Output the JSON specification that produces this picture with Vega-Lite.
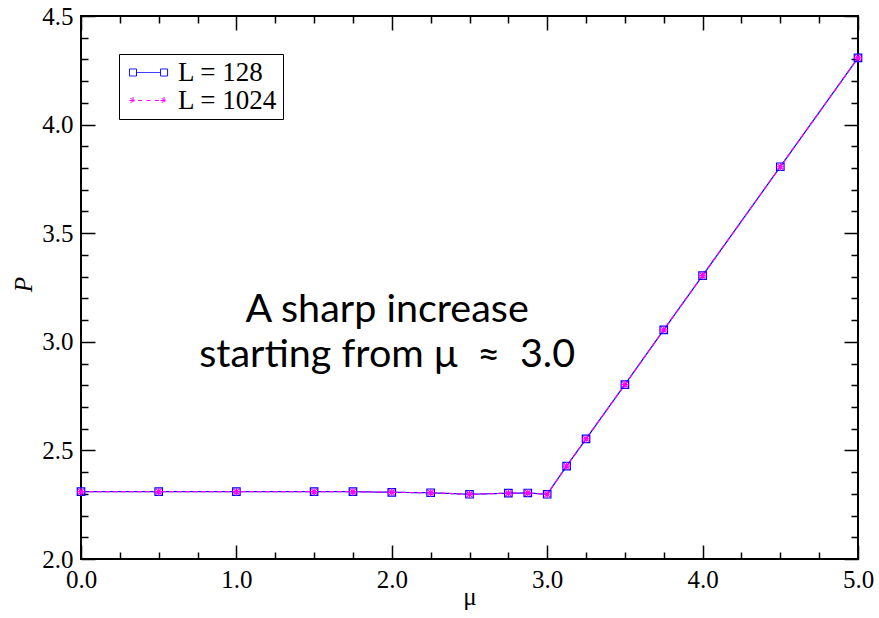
{
  "$schema": "https://vega.github.io/schema/vega-lite/v6.json",
  "width": 777,
  "height": 543,
  "autosize": {"type": "none"},
  "padding": {"left": 81, "top": 16, "right": 21, "bottom": 59},
  "background": "white",
  "config": {
    "view": {"stroke": "black", "strokeWidth": 2},
    "axis": {"grid": false, "domain": false, "tickColor": "black", "tickWidth": 1.5, "labelColor": "black", "titleColor": "black", "labelFont": "Liberation Serif", "titleFont": "Liberation Serif", "labelFontSize": 25, "titleFontSize": 25, "titleFontWeight": "normal", "labelFlush": false, "labelOverlap": false}
  },
  "data": {"values": [
    {"series": "L = 128", "mu": 0.0, "P": 2.31},
    {"series": "L = 128", "mu": 0.5, "P": 2.31},
    {"series": "L = 128", "mu": 1.0, "P": 2.31},
    {"series": "L = 128", "mu": 1.5, "P": 2.31},
    {"series": "L = 128", "mu": 1.75, "P": 2.31},
    {"series": "L = 128", "mu": 2.0, "P": 2.307},
    {"series": "L = 128", "mu": 2.25, "P": 2.305},
    {"series": "L = 128", "mu": 2.5, "P": 2.298},
    {"series": "L = 128", "mu": 2.75, "P": 2.303},
    {"series": "L = 128", "mu": 2.875, "P": 2.304},
    {"series": "L = 128", "mu": 3.0, "P": 2.298},
    {"series": "L = 128", "mu": 3.125, "P": 2.428},
    {"series": "L = 128", "mu": 3.25, "P": 2.553},
    {"series": "L = 128", "mu": 3.5, "P": 2.803},
    {"series": "L = 128", "mu": 3.75, "P": 3.055},
    {"series": "L = 128", "mu": 4.0, "P": 3.305},
    {"series": "L = 128", "mu": 4.5, "P": 3.806},
    {"series": "L = 128", "mu": 5.0, "P": 4.307},
    {"series": "L = 1024", "mu": 0.0, "P": 2.31},
    {"series": "L = 1024", "mu": 0.5, "P": 2.31},
    {"series": "L = 1024", "mu": 1.0, "P": 2.31},
    {"series": "L = 1024", "mu": 1.5, "P": 2.31},
    {"series": "L = 1024", "mu": 1.75, "P": 2.31},
    {"series": "L = 1024", "mu": 2.0, "P": 2.307},
    {"series": "L = 1024", "mu": 2.25, "P": 2.305},
    {"series": "L = 1024", "mu": 2.5, "P": 2.298},
    {"series": "L = 1024", "mu": 2.75, "P": 2.303},
    {"series": "L = 1024", "mu": 2.875, "P": 2.304},
    {"series": "L = 1024", "mu": 3.0, "P": 2.298},
    {"series": "L = 1024", "mu": 3.125, "P": 2.428},
    {"series": "L = 1024", "mu": 3.25, "P": 2.553},
    {"series": "L = 1024", "mu": 3.5, "P": 2.803},
    {"series": "L = 1024", "mu": 3.75, "P": 3.055},
    {"series": "L = 1024", "mu": 4.0, "P": 3.305},
    {"series": "L = 1024", "mu": 4.5, "P": 3.806},
    {"series": "L = 1024", "mu": 5.0, "P": 4.307}
  ]},
  "resolve": {"axis": {"x": "independent", "y": "independent"}},
  "layer": [
    {
      "mark": {"type": "line", "strokeWidth": 1.2, "clip": false},
      "encoding": {
        "x": {"field": "mu", "type": "quantitative", "scale": {"domain": [0, 5], "nice": false, "zero": false},
          "axis": {"orient": "bottom", "values": [0, 1, 2, 3, 4, 5], "format": ".1f", "tickSize": -14, "labelPadding": 22, "labelFont": "Liberation Serif", "labelFontSize": 25, "labelFlush": false, "title": "μ", "titleFont": "Liberation Serif", "titleFontSize": 25, "titleY": 45, "titleBaseline": "alphabetic"}},
        "y": {"field": "P", "type": "quantitative", "scale": {"domain": [2, 4.5], "nice": false, "zero": false},
          "axis": {"orient": "left", "values": [2, 2.5, 3, 3.5, 4, 4.5], "format": ".1f", "tickSize": -14, "labelPadding": 22, "labelFont": "Liberation Serif", "labelFontSize": 25, "title": "P", "titleFont": "Liberation Serif", "titleFontSize": 25, "titleFontStyle": "italic", "titleX": -58, "titleY": 268, "titleAngle": -90, "titleAlign": "center", "titleBaseline": "middle"}},
        "color": {"field": "series", "type": "nominal",
          "scale": {"domain": ["L = 128", "L = 1024"], "range": ["#0000ff", "#ff00ff"]},
          "legend": {"orient": "none", "legendX": 38, "legendY": 38, "title": null, "labelFont": "Liberation Serif", "labelFontSize": 27, "labelColor": "black", "strokeColor": "black", "padding": 5, "rowPadding": 0, "symbolSize": 256, "labelOffset": 27, "fillColor": "white",
            "encode": {"symbols": {"update": {"shape": {"signal": "datum.value === 'L = 128' ? 'M-1,-0.44h0.88v0.88h-0.88zM2.88,-0.44h0.88v0.88h-0.88zM-0.12,0H2.88' : 'M-1,0H-0.12M-0.56,-0.44V0.44M-0.87,-0.31L-0.25,0.31M-0.87,0.31L-0.25,-0.31M2.88,0H3.76M3.32,-0.44V0.44M3.01,-0.31L3.63,0.31M3.01,0.31L3.63,-0.31M0.08,0H0.58M1.13,0H1.63M2.18,0H2.68'"}, "strokeWidth": {"value": 1}, "fill": {"value": "transparent"}, "strokeDash": {"value": [1, 0]}}}}}},
        "strokeDash": {"field": "series", "type": "nominal", "scale": {"domain": ["L = 128", "L = 1024"], "range": [[1, 0], [5, 3]]}, "legend": null}
      }
    },
    {
      "transform": [{"filter": "datum.series === 'L = 128'"}],
      "mark": {"type": "point", "shape": "square", "filled": false, "stroke": "#0000ff", "strokeWidth": 1.2, "size": 56, "opacity": 1, "clip": false},
      "encoding": {
        "x": {"field": "mu", "type": "quantitative",
          "axis": {"orient": "bottom", "values": [0.25, 0.5, 0.75, 1.25, 1.5, 1.75, 2.25, 2.5, 2.75, 3.25, 3.5, 3.75, 4.25, 4.5, 4.75], "tickSize": -7, "labels": false, "title": null}},
        "y": {"field": "P", "type": "quantitative",
          "axis": {"orient": "left", "values": [2.1, 2.2, 2.3, 2.4, 2.6, 2.7, 2.8, 2.9, 3.1, 3.2, 3.3, 3.4, 3.6, 3.7, 3.8, 3.9, 4.1, 4.2, 4.3, 4.4], "tickSize": -7, "labels": false, "title": null}}
      }
    },
    {
      "transform": [{"filter": "datum.series === 'L = 1024'"}],
      "mark": {"type": "point", "shape": "M-1,0H1M0,-1V1M-0.7,-0.7L0.7,0.7M-0.7,0.7L0.7,-0.7", "filled": false, "stroke": "#ff00ff", "strokeWidth": 1.2, "size": 64, "opacity": 1, "clip": false},
      "encoding": {
        "x": {"field": "mu", "type": "quantitative",
          "axis": {"orient": "top", "values": [0, 1, 2, 3, 4, 5], "tickSize": -14, "labels": false, "title": null}},
        "y": {"field": "P", "type": "quantitative",
          "axis": {"orient": "right", "values": [2, 2.5, 3, 3.5, 4, 4.5], "tickSize": -14, "labels": false, "title": null}}
      }
    },
    {
      "data": {"values": [{"label": "annotation"}]},
      "mark": {"type": "text", "font": "Lato", "fontSize": 39.5, "align": "center", "baseline": "alphabetic", "lineHeight": 45, "color": "black"},
      "encoding": {
        "x": {"datum": 1.97, "type": "quantitative",
          "axis": {"orient": "top", "values": [0.25, 0.5, 0.75, 1.25, 1.5, 1.75, 2.25, 2.5, 2.75, 3.25, 3.5, 3.75, 4.25, 4.5, 4.75], "tickSize": -7, "labels": false, "title": null}},
        "y": {"datum": 3.093, "type": "quantitative",
          "axis": {"orient": "right", "values": [2.1, 2.2, 2.3, 2.4, 2.6, 2.7, 2.8, 2.9, 3.1, 3.2, 3.3, 3.4, 3.6, 3.7, 3.8, 3.9, 4.1, 4.2, 4.3, 4.4], "tickSize": -7, "labels": false, "title": null}},
        "text": {"value": ["A sharp increase", "starting from μ\u2002≈\u20023.0"]}
      }
    }
  ]
}
